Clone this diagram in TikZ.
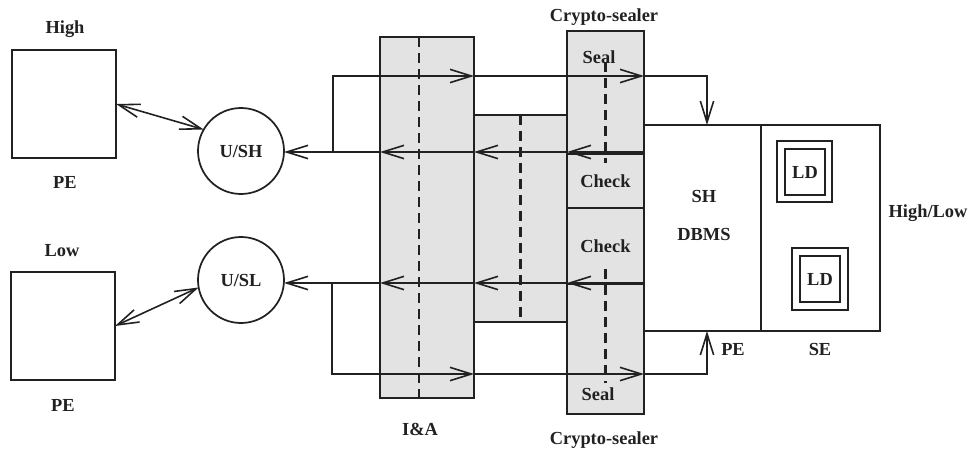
\documentclass[tikz,border=0pt]{standalone}
\usepackage{fontspec}
\setmainfont{Liberation Serif}
\usetikzlibrary{arrows.meta}
\definecolor{stipple}{gray}{0.89}
\definecolor{ink}{gray}{0.13}
\tikzset{
  >={Straight Barb[length=16pt,width=10pt]},
  lbl/.style={font=\fontsize{13.8}{16}\selectfont\bfseries,text=ink,inner sep=0pt},
  blk/.style={draw=ink,line width=1.3pt,inner sep=0pt,outer sep=0pt,
    font=\fontsize{13.8}{16}\selectfont\bfseries,text=ink},
  shade/.style={blk,fill=stipple},
  user/.style={blk,circle,minimum size=64.5pt},
  wire/.style={draw=ink,line width=1.2pt},
  cut/.style={draw=ink,line width=1.9pt,dash pattern=on 7.5pt off 4.5pt},
}

\begin{document}
\begin{tikzpicture}[x=0.75pt,y=-0.75pt]
  \useasboundingbox (0,0) rectangle (971,450);
  % stations
  \node[blk,minimum width=78pt,minimum height=81pt] (pehi) at (64,104) {};
  \node[blk,minimum width=78pt,minimum height=81pt] (pelo) at (63,326) {};
  \node[lbl] (hi) at (65,29) {High};
  \node[lbl] (pe1) at (65,182) {PE};
  \node[lbl] (lo) at (62,251) {Low};
  \node[lbl] (pe2) at (63,405) {PE};
  \node[user] (ush) at (241,151) {U/SH};
  \node[user] (usl) at (241,280) {U/SL};
  % filters
  \node[shade,minimum width=70.5pt,minimum height=270.75pt] (ia) at (427,217.5) {};
  \node[shade,minimum width=69.75pt,minimum height=155.25pt] (mid) at (520.5,218.5) {};
  \node[shade,minimum width=57.75pt,minimum height=287.25pt] (cs) at (605.5,222.5) {};
  \node[shade,minimum width=57.75pt,minimum height=40.5pt] (chk1) at (605.5,181) {Check};
  \node[shade,minimum width=57.75pt,minimum height=57pt] (chk2) at (605.5,246) {Check};
  \node[lbl] (seal1) at (599,57) {Seal};
  \node[lbl] (seal2) at (598,394) {Seal};
  \node[lbl] (cst) at (604,17) {Crypto-sealer};
  \node[lbl] (csb) at (604,440) {Crypto-sealer};
  \node[lbl] (ial) at (420,429) {I\&A};
  \draw[cut] (419,0 |- ia.north) -- (419,0 |- ia.south);
  \draw[cut] (mid.north) -- (mid.south);
  \draw[cut] (cs.north |- 0,62) -- (cs.north |- 0,163);
  \draw[cut] (cs.north |- 0,269) -- (cs.north |- 0,383);
  % database
  \node[blk,minimum width=87.75pt,minimum height=154.5pt] (dbms) at (702.5,228) {};
  \node[blk,minimum width=89.25pt,minimum height=154.5pt] (se) at (820.5,228) {};
  \node[lbl] (sh) at (704,196) {SH};
  \node[lbl] (db) at (704,234) {DBMS};
  \node[lbl] (pe3) at (733,349) {PE};
  \node[lbl] (sel) at (820,349) {SE};
  \node[lbl] (hl) at (928,213) {High/Low};
  \node[blk,minimum width=41.25pt,minimum height=45.75pt] (ld1o) at (804.5,171.5) {};
  \node[blk,minimum width=30pt,minimum height=34.5pt] (ld1) at (805,172) {LD};
  \node[blk,minimum width=42pt,minimum height=46.5pt] (ld2o) at (820,279) {};
  \node[blk,minimum width=30pt,minimum height=34.5pt] (ld2) at (820,279) {LD};
  % flows
  \coordinate (rt) at (0,76);
  \coordinate (rh) at (0,152);
  \coordinate (rl) at (0,283);
  \coordinate (rb) at (0,374);
  \coordinate (bh) at (333,152);
  \coordinate (bl) at (332,283);
  \coordinate (dh) at (707,0);
  \draw[wire,<->] (pehi.east) -- (ush.150);
  \draw[wire,<->] (pelo.east) -- (usl.190);
  \draw[wire,->] (dbms.west |- rh) -- (cs.west |- rh);
  \draw[wire,->] (cs.west |- rh) -- (mid.west |- rh);
  \draw[wire,->] (mid.west |- rh) -- (ia.west |- rh);
  \draw[wire,->] (ia.west |- rh) -- (ush.east |- rh);
  \draw[wire,->] (bh) |- (ia.east |- rt);
  \draw[wire,->] (ia.east |- rt) -- (cs.east |- rt);
  \draw[wire,->] (cs.east |- rt) -| (dh |- dbms.north);
  \draw[wire,->] (dbms.west |- rl) -- (cs.west |- rl);
  \draw[wire,->] (cs.west |- rl) -- (mid.west |- rl);
  \draw[wire,->] (mid.west |- rl) -- (ia.west |- rl);
  \draw[wire,->] (ia.west |- rl) -- (usl.east |- rl);
  \draw[wire,->] (bl) |- (ia.east |- rb);
  \draw[wire,->] (ia.east |- rb) -- (cs.east |- rb);
  \draw[wire,->] (cs.east |- rb) -| (dh |- dbms.south);
\end{tikzpicture}
\end{document}
